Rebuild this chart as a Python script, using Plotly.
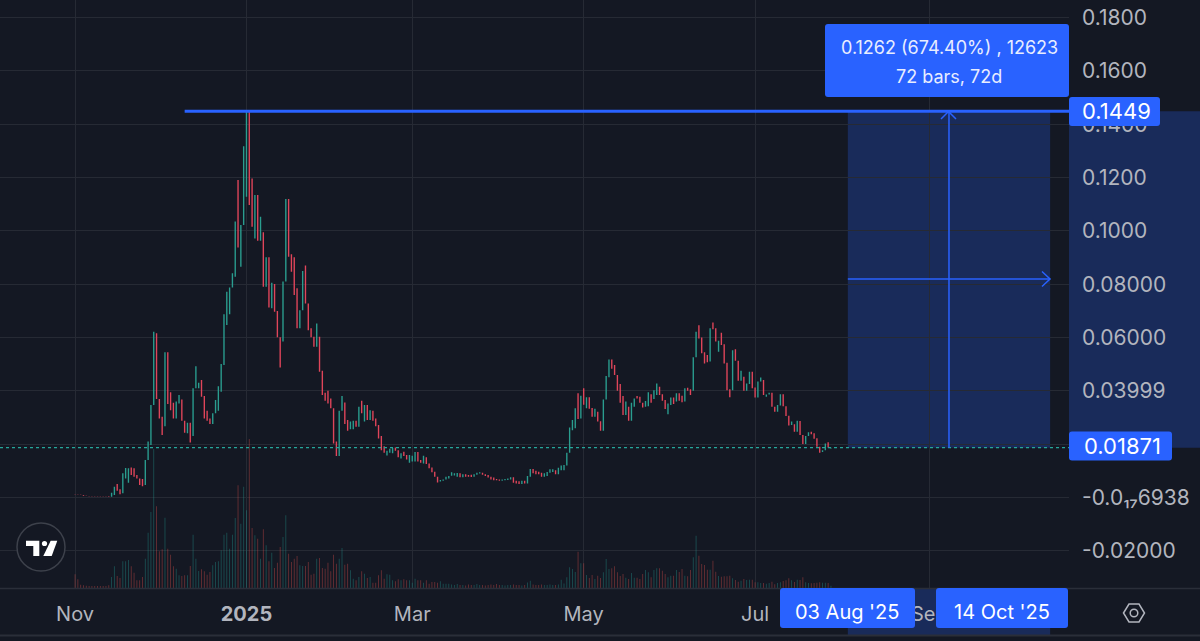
import plotly.graph_objects as go
from datetime import date, timedelta

BG = "#141823"
GRID = "#262a34"
LINE = "#2a2e39"
TEXT = "#b2b5be"
BLUE = "#2962ff"
UP = "#2a9d8f"
DOWN = "#e0455a"

FIRST_DAY = date(2024, 11, 1)

opens = [
    .0013, .0012, .0011, .0010, .0007, .0006, .0005, .0005, .0005, .0005,
    .0005, .0005, .0006, .0003, .0010, .0051, .0031, .0016, .0072, .0056,
    .0113, .0110, .0085, .0072, .0070, .0047, .0141, .0197, .0347, .0616,
    .0370, .0303, .0268, .0545, .0395, .0356, .0297, .0353, .0368, .0288,
    .0241, .0281, .0231, .0410, .0410, .0441, .0381, .0326, .0297, .0276,
    .0316, .0326, .0397, .0497, .0647, .0688, .0788, .0828, .1191, .0866,
    .1022, .1128, .1449, .1197, .0972, .1135, .0963, .0995, .0791, .0901,
    .0710, .0801, .0700, .0601, .0585, .0810, .1120, .0913, .0901, .0785,
    .0635, .0703, .0870, .0728, .0635, .0603, .0566, .0603, .0476, .0393,
    .0401, .0372, .0335, .0210, .0156, .0326, .0357, .0291, .0256, .0256,
    .0288, .0266, .0363, .0285, .0347, .0291, .0326, .0297, .0272, .0231,
    .0193, .0158, .0168, .0166, .0188, .0178, .0147, .0172, .0160, .0131,
    .0135, .0135, .0171, .0141, .0128, .0151, .0128, .0113, .0097, .0078,
    .0060, .0063, .0068, .0072, .0082, .0083, .0078, .0091, .0076, .0088,
    .0085, .0086, .0078, .0086, .0090, .0093, .0088, .0085, .0078, .0075,
    .0070, .0068, .0063, .0065, .0066, .0068, .0076, .0063, .0061, .0051,
    .0063, .0053, .0078, .0107, .0101, .0097, .0093, .0078, .0081, .0093,
    .0096, .0103, .0088, .0103, .0103, .0120, .0168, .0253, .0260, .0391,
    .0297, .0410, .0335, .0376, .0336, .0303, .0322, .0286, .0251, .0368,
    .0451, .0518, .0497, .0460, .0426, .0381, .0310, .0341, .0288, .0341,
    .0381, .0378, .0356, .0341, .0343, .0388, .0370, .0385, .0416, .0388,
    .0366, .0313, .0347, .0375, .0360, .0391, .0382, .0360, .0412, .0406,
    .0401, .0526, .0646, .0600, .0545, .0535, .0510, .0657, .0635, .0547,
    .0618, .0575, .0506, .0406, .0403, .0556, .0513, .0438, .0453, .0401,
    .0426, .0472, .0413, .0375, .0435, .0441, .0378, .0387, .0393, .0341,
    .0322, .0345, .0388, .0343, .0307, .0272, .0275, .0247, .0287, .0235,
    .0201, .0231, .0247, .0241, .0223, .0191, .0171, .0178, .0208, .0184,
]
closes = [
    .0012, .0011, .0010, .0007, .0006, .0005, .0004, .0004, .0004, .0004,
    .0004, .0004, .0004, .0018, .0041, .0026, .0013, .0091, .0111, .0110,
    .0085, .0078, .0072, .0047, .0043, .0141, .0210, .0347, .0622, .0370,
    .0297, .0235, .0545, .0351, .0328, .0297, .0360, .0385, .0288, .0243,
    .0281, .0207, .0410, .0493, .0431, .0378, .0297, .0288, .0276, .0316,
    .0366, .0418, .0501, .0688, .0772, .0788, .0841, .1035, .0938, .1022,
    .1318, .1449, .1097, .1016, .1135, .0963, .1053, .0791, .0901, .0713,
    .0806, .0697, .0601, .0488, .0810, .1120, .0903, .0847, .0760, .0635,
    .0703, .0850, .0728, .0628, .0601, .0566, .0653, .0472, .0385, .0363,
    .0353, .0335, .0203, .0156, .0326, .0381, .0276, .0251, .0285, .0288,
    .0266, .0341, .0316, .0347, .0291, .0328, .0288, .0268, .0222, .0178,
    .0168, .0176, .0183, .0186, .0176, .0151, .0166, .0156, .0143, .0160,
    .0157, .0171, .0135, .0131, .0157, .0126, .0110, .0095, .0078, .0057,
    .0066, .0068, .0078, .0081, .0095, .0091, .0092, .0076, .0088, .0078,
    .0078, .0077, .0088, .0093, .0095, .0086, .0081, .0075, .0068, .0065,
    .0065, .0063, .0068, .0070, .0072, .0076, .0056, .0053, .0051, .0063,
    .0053, .0081, .0107, .0091, .0088, .0088, .0078, .0091, .0096, .0106,
    .0106, .0088, .0112, .0120, .0122, .0168, .0263, .0291, .0335, .0295,
    .0382, .0348, .0376, .0333, .0303, .0333, .0285, .0251, .0368, .0456,
    .0518, .0483, .0460, .0401, .0356, .0310, .0360, .0288, .0356, .0372,
    .0372, .0356, .0338, .0362, .0395, .0356, .0403, .0428, .0385, .0363,
    .0332, .0353, .0375, .0351, .0391, .0363, .0358, .0410, .0401, .0385,
    .0526, .0622, .0597, .0541, .0503, .0508, .0635, .0631, .0585, .0588,
    .0572, .0503, .0403, .0376, .0553, .0513, .0438, .0476, .0401, .0428,
    .0472, .0410, .0375, .0435, .0450, .0385, .0387, .0393, .0341, .0322,
    .0347, .0388, .0343, .0306, .0270, .0285, .0247, .0288, .0235, .0201,
    .0231, .0245, .0238, .0221, .0191, .0168, .0178, .0203, .0188, .01871,
]
volumes = [
    13.7, 8.7, 3.3, 2.7, 2.3, 2, 2, 2, 2, 2,
    2, 2, 2.7, 11, 21.7, 12, 10, 26.7, 26.7, 28,
    21.7, 15.3, 7.7, 7.7, 11, 29.3, 55.3, 76, 139, 81.7,
    36.7, 38.7, 70.3, 39.3, 33.3, 21.7, 19.3, 12.7, 12, 12.7,
    12.7, 22, 53.3, 29.3, 17, 18.7, 16.7, 13.3, 16, 22.7,
    26, 26.7, 37.7, 53.3, 55.3, 39.3, 53.3, 70, 102.7, 64.3,
    101.3, 77.7, 149, 60, 52.7, 49.3, 29.3, 58.7, 42.7, 26.7,
    35.3, 20, 25.3, 41, 51, 72.7, 34.3, 26, 29.3, 32,
    22.7, 22, 22, 26, 13.3, 14.3, 29.3, 30, 20, 19.3,
    25.3, 16.7, 33.3, 24.3, 29.3, 40, 23.3, 24.3, 17.7, 9.3,
    7.7, 11, 16.7, 14.3, 10, 11, 5.3, 5.3, 12.7, 17.7,
    9.3, 13.7, 13.3, 7.7, 6.7, 8.7, 7.7, 8.7, 7.7, 7.7,
    5.3, 9.3, 7.7, 7.7, 5.3, 7.7, 4.3, 6, 6, 5.3,
    6.7, 4.3, 4.3, 4.3, 3.5, 3, 4, 3, 3, 2.5,
    3.5, 3, 3, 4, 3, 3, 2.5, 3, 3.5, 3,
    4, 3, 3, 2.5, 3, 3, 3.5, 3, 3, 2.5,
    3, 5.5, 7.3, 3.5, 3, 3, 3.5, 3, 3, 3.5,
    3, 3, 3.5, 8.3, 4.5, 10.7, 20.7, 19, 16, 36.3,
    24.7, 24.7, 13, 10, 13, 9, 12.3, 10, 15.7, 29,
    19, 19.7, 21.7, 15.7, 12, 14, 10.3, 9, 15, 10.3,
    10.3, 9, 14, 18, 15.7, 10.7, 18, 19.7, 19.7, 17.3,
    14, 10.7, 12.3, 12.3, 18, 16, 19, 12.3, 11.7, 18,
    30.7, 52.3, 32.3, 24, 23, 18.3, 18.3, 27.3, 16.3, 12,
    11.3, 11.7, 11.7, 12.3, 9.7, 8, 6.3, 7.3, 9, 8,
    8.3, 8.3, 5.7, 5.7, 5, 5, 4.3, 5, 6.3, 3.7,
    5, 5.7, 7, 7.7, 9.7, 7.7, 6, 8.3, 8, 10.7,
    5.7, 5, 4.7, 5, 5.3, 5.7, 5.3, 5.3, 5, 2.3,
]

price_ticks = [0.18, 0.16, 0.14, 0.12, 0.10, 0.08, 0.06, 0.04, 0.02, 0, -0.02]
price_labels = ["0.1800", "0.1600", "0.1400", "0.1200", "0.1000", "0.08000", "0.06000",
                "0.03999", "", "-0.0₁₇6938", "-0.02000"]
time_ticks = ["2024-11-01", "2025-01-01", "2025-03-01", "2025-05-01", "2025-07-01", "2025-09-01"]
time_labels = ["Nov", "<b>2025</b>", "Mar", "May", "Jul", "Sep"]

high_price = 0.1449
last_price = 0.01871
start_day = "2025-08-03"
end_day = "2025-10-14"

days = [FIRST_DAY + timedelta(days=i) for i in range(len(closes))]
highs = [max(o, c) for o, c in zip(opens, closes)]
lows = [min(o, c) for o, c in zip(opens, closes)]
vol_colors = ["rgba(38,166,154,0.38)" if c >= o else "rgba(239,83,80,0.38)" for o, c in zip(opens, closes)]


# pixel position on the 1200x641 page to paper coordinates
def xp(x):
    return x / 1069


def yp(y):
    return 1 - y / 588


def rounded_box(x0, y0, x1, y1, r=3):
    pts = [
        f"M{xp(x0 + r)},{yp(y0)}", f"L{xp(x1 - r)},{yp(y0)}", f"Q{xp(x1)},{yp(y0)} {xp(x1)},{yp(y0 + r)}",
        f"L{xp(x1)},{yp(y1 - r)}", f"Q{xp(x1)},{yp(y1)} {xp(x1 - r)},{yp(y1)}",
        f"L{xp(x0 + r)},{yp(y1)}", f"Q{xp(x0)},{yp(y1)} {xp(x0)},{yp(y1 - r)}",
        f"L{xp(x0)},{yp(y0 + r)}", f"Q{xp(x0)},{yp(y0)} {xp(x0 + r)},{yp(y0)}", "Z",
    ]
    return dict(type="path", xref="paper", yref="paper", path=" ".join(pts),
                fillcolor=BLUE, line=dict(width=0))


def polygon(points, close=True):
    path = "M" + " L".join(f"{xp(x)},{yp(y)}" for x, y in points)
    return path + (" Z" if close else "")


def circle(cx, cy, r, **kw):
    return dict(type="circle", xref="paper", yref="paper", x0=xp(cx - r), x1=xp(cx + r),
                y0=yp(cy + r), y1=yp(cy - r), **kw)


def label(x, y, text, size=19, color="#ffffff"):
    return dict(xref="paper", yref="paper", x=xp(x), y=yp(y), text=text, showarrow=False,
                xanchor="center", yanchor="middle", font=dict(size=size, color=color))


fig = go.Figure()
fig.add_trace(go.Candlestick(
    x=days, open=opens, high=highs, low=lows, close=closes,
    increasing=dict(line=dict(color=UP, width=0), fillcolor=UP),
    decreasing=dict(line=dict(color=DOWN, width=0), fillcolor=DOWN),
    whiskerwidth=0,
))
fig.add_trace(go.Bar(x=days, y=volumes, marker=dict(color=vol_colors, line=dict(width=0)),
                     width=0.32 * 86400000, yaxis="y2"))

shapes = [
    # measure box and its projections on both axes
    dict(type="rect", xref="x", yref="y", x0=start_day, x1=end_day, y0=last_price, y1=high_price,
         fillcolor="rgba(41,98,255,0.25)", line=dict(width=0), layer="below"),
    dict(type="rect", xref="paper", yref="y", x0=1, x1=xp(1200), y0=last_price, y1=high_price,
         fillcolor="rgba(41,98,255,0.25)", line=dict(width=0), layer="below"),
    dict(type="rect", xref="x", yref="paper", x0=start_day, x1=end_day, y0=yp(635), y1=yp(588),
         fillcolor="rgba(41,98,255,0.25)", line=dict(width=0), layer="below"),
    # frame lines
    dict(type="line", xref="paper", yref="paper", x0=0, x1=xp(1200), y0=yp(588.5), y1=yp(588.5),
         line=dict(color=LINE, width=1.5)),
    dict(type="line", xref="paper", yref="paper", x0=0, x1=xp(1200), y0=yp(635.5), y1=yp(635.5),
         line=dict(color=LINE, width=2)),
    # last price line
    dict(type="line", xref="paper", yref="y", x0=0, x1=1, y0=last_price, y1=last_price,
         line=dict(color="#26a69a", width=1.2, dash="dot")),
    # high line and measure arrows
    dict(type="line", xref="x", yref="y", x0="2024-12-10", x1="2025-10-20 17:00", y0=high_price, y1=high_price,
         line=dict(color=BLUE, width=3)),
    dict(type="line", xref="x", yref="y", x0="2025-09-08", x1="2025-09-08", y0=last_price, y1=high_price,
         line=dict(color=BLUE, width=1.5)),
    dict(type="line", xref="x", yref="paper", x0=start_day, x1=end_day, y0=yp(279), y1=yp(279),
         line=dict(color=BLUE, width=1.5)),
    dict(type="path", xref="paper", yref="paper", path=polygon([(941, 119), (948.5, 111.5), (956, 119)], False),
         line=dict(color=BLUE, width=1.5)),
    dict(type="path", xref="paper", yref="paper", path=polygon([(1042, 271.5), (1050, 279), (1042, 286.5)], False),
         line=dict(color=BLUE, width=1.5)),
    # tags
    rounded_box(825, 24, 1069, 97),
    rounded_box(1069, 97, 1160, 126),
    rounded_box(1069, 431.5, 1172, 460.5),
    rounded_box(780, 588, 915, 628),
    rounded_box(936, 588, 1068, 628),
    # logo
    circle(41, 547, 24, line=dict(color="#3d414b", width=1.5), fillcolor=BG),
    dict(type="path", xref="paper", yref="paper", fillcolor="#ffffff", line=dict(width=0),
         path=polygon([(26, 540.7), (39.3, 540.7), (39.3, 556), (33.3, 556), (33.3, 546), (26, 546)])),
    dict(type="path", xref="paper", yref="paper", fillcolor="#ffffff", line=dict(width=0),
         path=polygon([(50.7, 540.7), (57.3, 540.7), (51.7, 556), (43.3, 556)])),
    circle(44.5, 543.5, 2.6, fillcolor="#ffffff", line=dict(width=0)),
    # settings icon
    dict(type="path", xref="paper", yref="paper", line=dict(color=TEXT, width=1.5),
         path=polygon([(1123.5, 613), (1129, 604), (1139, 604), (1144.5, 613), (1139, 622), (1129, 622)])),
    circle(1134, 613, 3.8, line=dict(color=TEXT, width=1.5)),
]

annotations = [
    label(949, 47, "0.1262 (674.40%) , 12623", size=18, color="#e8edff"),
    label(949, 76, "72 bars, 72d", size=18, color="#e8edff"),
    label(1116, 111, "0.1449", size=22),
    label(1122, 446, "0.01871", size=22),
    label(847, 612, "03 Aug '25", size=20),
    label(1002, 612, "14 Oct '25", size=20),
]

fig.update_layout(
    width=1200,
    height=641,
    margin=dict(l=0, r=131, t=0, b=53, pad=0),
    paper_bgcolor=BG,
    plot_bgcolor=BG,
    font=dict(family="Inter", color=TEXT, size=20),
    showlegend=False,
    shapes=shapes,
    annotations=annotations,
    xaxis=dict(
        type="date",
        range=["2024-10-05 07:00", "2025-10-20 17:00"],
        rangeslider=dict(visible=False),
        tickmode="array",
        tickvals=time_ticks,
        ticktext=time_labels,
        showgrid=True,
        gridcolor=GRID,
        gridwidth=1,
        zeroline=False,
        ticks="",
        showline=False,
        ticklabelstandoff=12,
    ),
    yaxis=dict(
        side="right",
        range=[-0.0339, 0.1866],
        tickmode="array",
        tickvals=price_ticks,
        ticktext=price_labels,
        tickfont=dict(size=21),
        showgrid=True,
        gridcolor=GRID,
        gridwidth=1,
        zeroline=False,
        ticks="",
        showline=False,
        ticklabelstandoff=12,
    ),
    yaxis2=dict(overlaying="y", range=[0, 588], visible=False, showgrid=False, zeroline=False),
)

fig.write_html("out.html", config=dict(displayModeBar=False),
               post_script="document.body.style.margin='0';document.body.style.background='" + BG + "';")
